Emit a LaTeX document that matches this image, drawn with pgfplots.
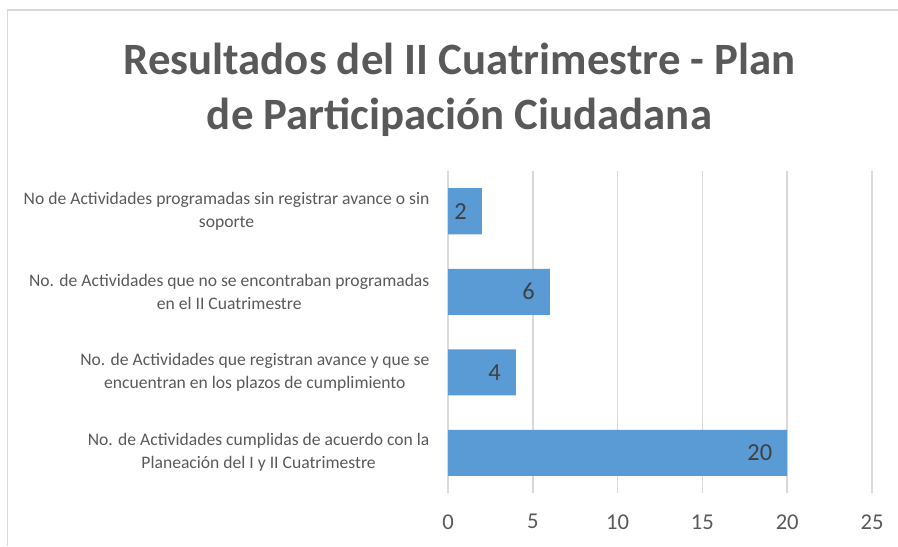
\documentclass[border=0pt]{standalone}
\usepackage{pgfplots}
\pgfplotsset{compat=1.18}
\usepackage{fontspec}
\setmainfont{Carlito}
\definecolor{barblue}{HTML}{5B9BD5}
\definecolor{txtgray}{HTML}{595959}
\definecolor{gridgray}{HTML}{D9D9D9}
\definecolor{lblgray}{HTML}{404040}
\begin{document}
\begin{tikzpicture}
\path[use as bounding box] (0,0) rectangle (449pt,273pt);
\draw[gridgray, line width=0.7pt] (3.8pt,0) -- (3.8pt,268pt) -- (449pt,268pt);
\node[anchor=base, text=txtgray, font=\fontsize{22.4}{26}\selectfont\bfseries, inner sep=0] at (229.75pt,235.5pt) {Resultados del II Cuatrimestre - Plan};
\node[anchor=base, text=txtgray, font=\fontsize{22.4}{26}\selectfont\bfseries, inner sep=0] at (229.75pt,208pt) {de Participación Ciudadana};
\begin{axis}[
  at={(224pt,26.5pt)}, anchor=south west,
  scale only axis, width=212pt, height=161pt,
  xbar, bar width=23pt,
  xmin=0, xmax=25, ymin=-0.5, ymax=3.5,
  xtick={0,5,10,15,20,25}, ytick={0,1,2,3},
  yticklabels={{No. de Actividades cumplidas de acuerdo con la\\Planeación del I y II Cuatrimestre},
               {No. de Actividades que registran avance y que se\\encuentran en los plazos de cumplimiento},
               {No. de Actividades que no se encontraban programadas\\en el II Cuatrimestre},
               {No de Actividades programadas sin registrar avance o sin\\soporte}},
  xmajorgrids, major grid style={gridgray, line width=0.8pt},
  axis line style={draw=none},
  major tick length=0,
  tick label style={text=txtgray},
  xticklabel style={font=\fontsize{11.3}{13}\selectfont, yshift=-7.2pt},
  yticklabel style={font=\fontsize{8.8}{11.5}\selectfont, align=center, xshift=-5.8pt},
  /pgf/number format/assume math mode=true,
  nodes near coords,
  every node near coord/.append style={anchor=east, xshift=-4pt, text=lblgray, font=\fontsize{12.2}{14}\selectfont},
]
\addplot[fill=barblue, draw=none] coordinates {(20,0) (4,1) (6,2) (2,3)};
\end{axis}
\end{tikzpicture}
\end{document}
